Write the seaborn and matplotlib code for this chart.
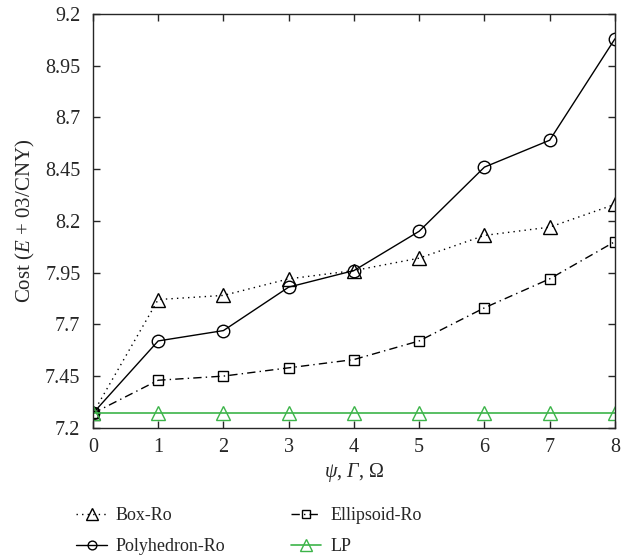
import matplotlib
matplotlib.use("Agg")
import matplotlib.pyplot as plt
import seaborn as sns
import pandas as pd

x = [0, 1, 2, 3, 4, 5, 6, 7, 8]
box_ro = [7.27, 7.82, 7.84, 7.92, 7.96, 8.02, 8.13, 8.17, 8.28]
ellipsoid_ro = [7.27, 7.43, 7.45, 7.49, 7.53, 7.62, 7.78, 7.92, 8.10]
polyhedron_ro = [7.27, 7.62, 7.67, 7.88, 7.96, 8.15, 8.46, 8.59, 9.08]
lp = [7.27, 7.27, 7.27, 7.27, 7.27, 7.27, 7.27, 7.27, 7.27]
yticks = [7.2, 7.45, 7.7, 7.95, 8.2, 8.45, 8.7, 8.95, 9.2]
ytick_labels = ["7.2", "7.45", "7.7", "7.95", "8.2", "8.45", "8.7", "8.95", "9.2"]

sns.set_style("ticks")
plt.rcParams['font.family'] = ['Liberation Serif', 'DejaVu Serif']
plt.rcParams['mathtext.fontset'] = 'custom'
plt.rcParams['mathtext.it'] = 'Liberation Serif:italic'
plt.rcParams['mathtext.rm'] = 'Liberation Serif'
plt.rcParams['mathtext.sf'] = 'Liberation Serif:italic'

fig = plt.figure(figsize=(6.32, 5.6), dpi=100)
ax = fig.add_axes([0.147, 0.236, 0.826, 0.739])

series = [
    ("Box-Ro", box_ro, dict(color="black", linestyle=(0, (1, 3)), marker="^", markersize=10, lw=1.0)),
    ("Polyhedron-Ro", polyhedron_ro, dict(color="black", linestyle="-", marker="o", markersize=9, lw=1.0)),
    ("Ellipsoid-Ro", ellipsoid_ro, dict(color="black", linestyle=(0, (6, 3, 1, 3)), marker="s", markersize=7, lw=1.0)),
    ("LP", lp, dict(color="#3cb449", linestyle="-", marker="^", markersize=10, lw=1.2)),
]
handles = {}
for name, vals, kw in series:
    df = pd.DataFrame({"x": x, "y": vals})
    sns.lineplot(data=df, x="x", y="y", ax=ax, color=kw["color"], linestyle=kw["linestyle"],
                 lw=kw["lw"], marker=kw["marker"], markersize=kw["markersize"],
                 markerfacecolor="none", markeredgecolor=kw["color"], markeredgewidth=1.0)
    h, = ax.plot([], [], color=kw["color"], linestyle=kw["linestyle"], lw=kw["lw"], marker=kw["marker"],
                 markersize=kw["markersize"] * (0.7 if kw["marker"] == "o" else 0.85),
                 markerfacecolor="none", markeredgecolor=kw["color"])
    handles[name] = h

ax.set_xlim(0, 8)
ax.set_ylim(7.2, 9.2)
ax.set_xticks(x)
ax.set_xticklabels([str(v) for v in x])
ax.set_yticks(yticks)
ax.set_yticklabels(ytick_labels)
ax.tick_params(direction="in", top=True, right=True, length=5, labelsize=14.5, width=1.0)
ax.tick_params(axis="y", pad=9)
ax.tick_params(axis="x", pad=7)
for s in ax.spines.values():
    s.set_linewidth(1.0)
ax.set_xlabel(r"$\psi$, $\mathsf{Γ}$, $\Omega$", fontsize=14.5, labelpad=3)
ax.set_ylabel(r"Cost ($E$ + 03/CNY)", fontsize=15, labelpad=6)

order = ["Box-Ro", "Polyhedron-Ro", "Ellipsoid-Ro", "LP"]
fig.legend([handles[n] for n in order], order, loc="lower left", bbox_to_anchor=(0.095, -0.02),
           ncol=2, frameon=False, fontsize=13, handlelength=1.7, columnspacing=3.6,
           labelspacing=0.75, handletextpad=0.5)

fig.savefig("out.png", dpi=100)
